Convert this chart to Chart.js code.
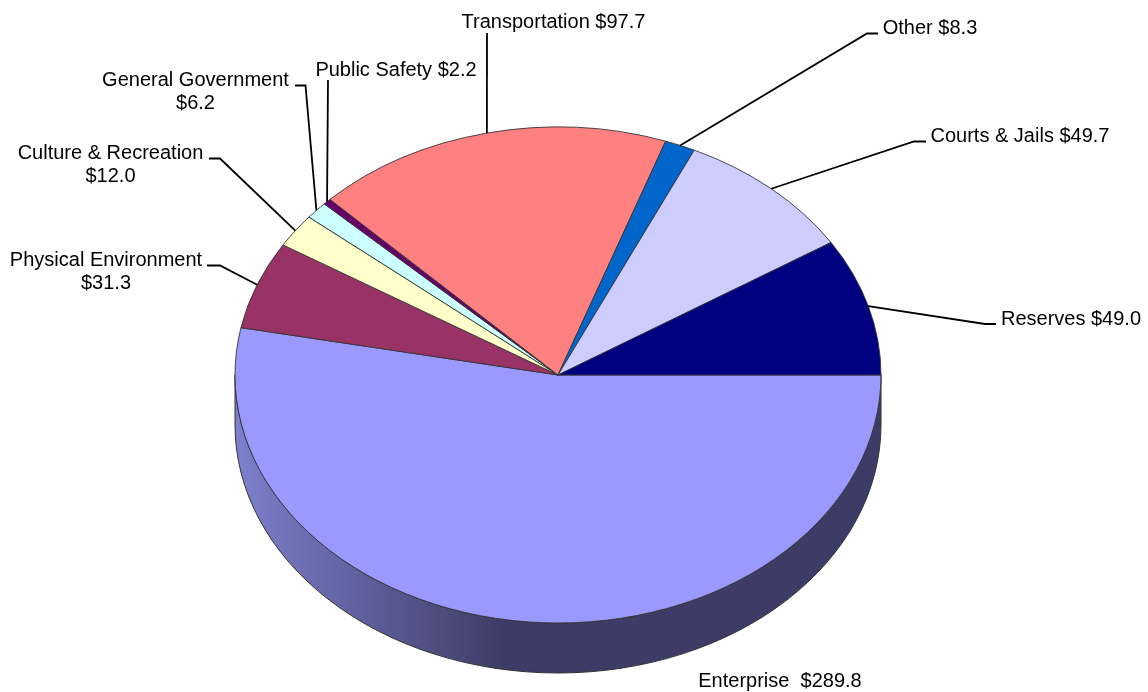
<!DOCTYPE html>
<html>
<head>
<meta charset="utf-8">
<title>Budget pie</title>
<script src="https://cdn.jsdelivr.net/npm/chart.js@4"></script>
<style>
	html, body { margin: 0; padding: 0; background: #fff; }
	#wrap { width: 1148px; height: 692px; }
</style>
</head>
<body>
<div id="wrap"><canvas id="myChart" width="1148" height="692"></canvas></div>
<script>
// values, clockwise from 3 o'clock
const categories = ['Enterprise', 'Physical Environment', 'Culture & Recreation', 'General Government', 'Public Safety', 'Transportation', 'Other', 'Courts & Jails', 'Reserves'];
const amounts = [289.8, 31.3, 12.0, 6.2, 2.2, 97.7, 8.3, 49.7, 49.0];
const sliceColors = ['#9999FF', '#993366', '#FFFFCC', '#CCFFFF', '#660066', '#FF8080', '#0066CC', '#CCCCFF', '#000080'];

// where each label sits: text centre, first line y, split into two lines or not, leader elbow
const labelLayout = [
	{ x: 780, y: 681, split: false, sep: '  ', leader: null },
	{ x: 106, y: 260, split: true, leader: [[207, 265.5], [220, 265.5]] },
	{ x: 110.5, y: 153, split: true, leader: [[209, 158.5], [220, 158.5]] },
	{ x: 195.5, y: 80, split: true, leader: [[295, 85.5], [305.5, 85.5]] },
	{ x: 396, y: 70, split: false, leader: [[328, 80]] },
	{ x: 553.5, y: 22, split: false, leader: [[487, 33]] },
	{ x: 930, y: 28, split: false, leader: [[878, 33.5], [867, 33.5]] },
	{ x: 1020, y: 136, split: false, leader: [[926, 141.5], [914, 141.5]] },
	{ x: 1071, y: 319, split: false, leader: [[996, 324], [985, 324]] }
];

const tilt = 248 / 323;   // squash of the pie top
const depth = 50;         // height of the side wall

// side wall under the top face
const wallPlugin = {
	id: 'wall',
	beforeDatasetsDraw(chart) {
		const arc = chart.getDatasetMeta(0).data[0];
		const c = chart.ctx;
		const rx = arc.outerRadius;
		const ry = rx * tilt;
		const grad = c.createLinearGradient(arc.x - rx, 0, arc.x - rx + 270, 0);
		grad.addColorStop(0, '#7D80CD');
		grad.addColorStop(1, '#3D3C66');
		c.save();
		c.beginPath();
		c.ellipse(arc.x, arc.y, rx, ry, 0, 0, Math.PI);
		c.ellipse(arc.x, arc.y + depth, rx, ry, 0, Math.PI, 0, true);
		c.closePath();
		c.fillStyle = grad;
		c.fill();
		c.strokeStyle = '#333';
		c.lineWidth = 1;
		c.stroke();
		c.restore();

		// squash the round pie into an ellipse, undone after the dataset draw
		c.save();
		c.translate(arc.x, arc.y);
		c.scale(1, tilt);
		c.translate(-arc.x, -arc.y);
	},
	afterDatasetsDraw(chart) {
		chart.ctx.restore();
	}
};

// labels and leader lines, leaders end on the middle of each slice
const labelPlugin = {
	id: 'sliceLabels',
	afterDraw(chart) {
		const c = chart.ctx;
		const arcs = chart.getDatasetMeta(0).data;
		c.save();
		c.font = '20px "Liberation Sans", Arial, sans-serif';
		c.fillStyle = '#000';
		c.strokeStyle = '#000';
		c.lineWidth = 1.8;
		c.textAlign = 'center';
		c.textBaseline = 'middle';
		categories.forEach((name, i) => {
			const pos = labelLayout[i];
			const money = '$' + amounts[i].toFixed(1);
			if (pos.split) {
				c.fillText(name, pos.x, pos.y);
				c.fillText(money, pos.x, pos.y + 23);
			} else {
				c.fillText(name + (pos.sep || ' ') + money, pos.x, pos.y);
			}
			if (pos.leader) {
				const arc = arcs[i];
				const mid = (arc.startAngle + arc.endAngle) / 2;
				c.beginPath();
				pos.leader.forEach((p, k) => {
					if (k === 0) c.moveTo(p[0], p[1]);
					else c.lineTo(p[0], p[1]);
				});
				c.lineTo(arc.x + arc.outerRadius * Math.cos(mid), arc.y + arc.outerRadius * tilt * Math.sin(mid));
				c.stroke();
			}
		});
		c.restore();
	}
};

new Chart(document.getElementById('myChart'), {
	type: 'pie',
	data: {
		labels: categories,
		datasets: [{
			data: amounts,
			backgroundColor: sliceColors,
			borderColor: '#333',
			borderWidth: 1,
			radius: 323
		}]
	},
	options: {
		responsive: false,
		animation: false,
		events: [],
		rotation: 90,
		layout: { padding: { right: 32, top: 58 } },
		plugins: {
			legend: { display: false },
			tooltip: { enabled: false }
		}
	},
	plugins: [wallPlugin, labelPlugin]
});
</script>
</body>
</html>
